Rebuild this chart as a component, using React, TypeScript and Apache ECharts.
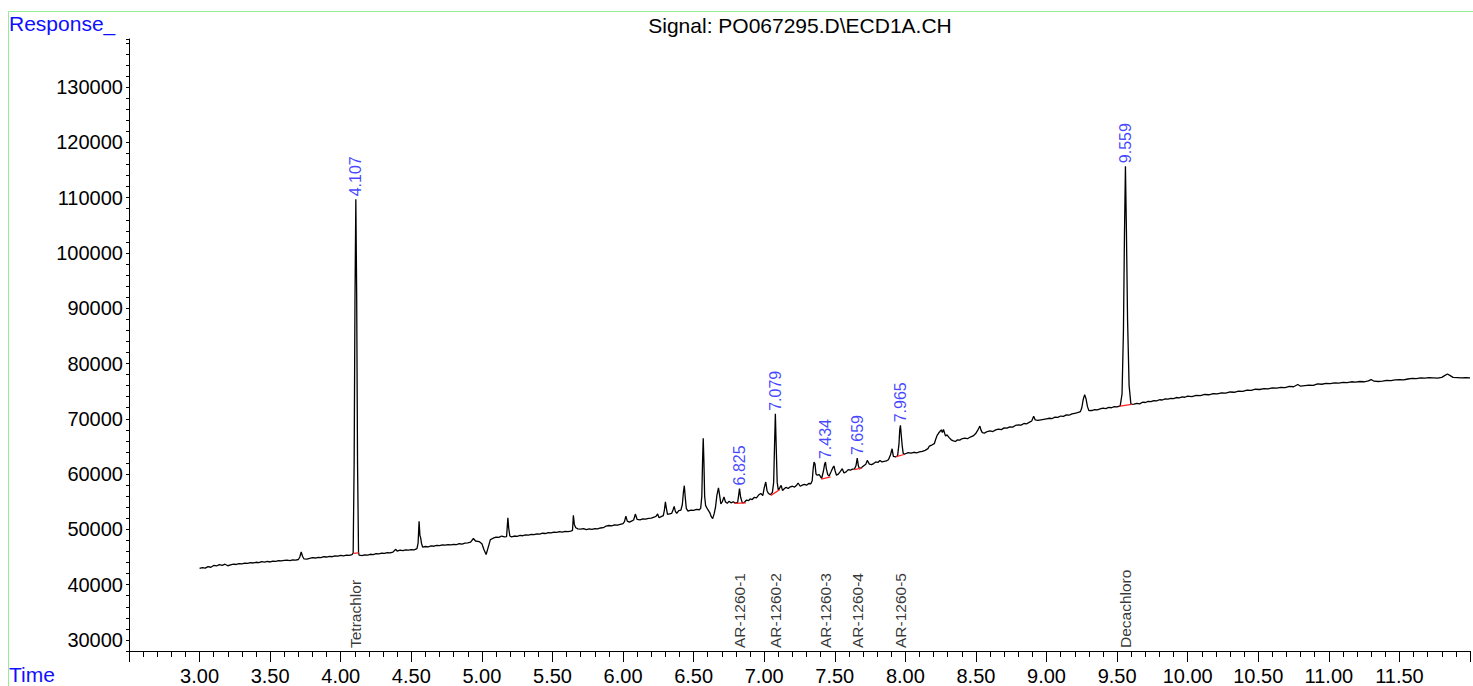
import React, { useEffect, useRef } from "react";
import * as echarts from "echarts";

const FONT = "'Liberation Sans', Arial, Helvetica, sans-serif";

const traceA: number[][] = [
  [3.00,42930],[3.02,43100],[3.04,42980],[3.06,43250],[3.08,43150],[3.10,43470],[3.12,43380],[3.14,43620],[3.16,43500],[3.18,43700],[3.20,43420],[3.22,43560],[3.24,43700],[3.26,43650],[3.28,43800],[3.30,43760],[3.32,43900],[3.34,43850],[3.36,44000],[3.38,43920],[3.40,44050],[3.42,43980],[3.44,44150],[3.46,44080],[3.48,44200],[3.50,44100],[3.52,44260],[3.54,44200],[3.56,44350],[3.58,44300],[3.60,44380],[3.62,44420],[3.64,44360],[3.66,44500],[3.68,44450],[3.70,44550],[3.71,45000],[3.72,45900],[3.73,45100],[3.74,44650],[3.76,44600],[3.78,44750],[3.80,44900],[3.82,44820],[3.84,44950],[3.86,44880],[3.88,45050],[3.90,45000],[3.92,45120],[3.94,45050],[3.96,45200],[3.98,45150],[4.00,45280],[4.02,45200],[4.04,45350],[4.06,45300],[4.08,45450],[4.088,45700],[4.095,62000],[4.101,92000],[4.107,109700],[4.113,92000],[4.119,62000],[4.126,45900],[4.13,45350],[4.15,45250],[4.17,45400],[4.19,45350],[4.21,45500],[4.23,45450],[4.25,45600],[4.27,45550],[4.29,45700],[4.31,45650],[4.33,45800],[4.35,45750],[4.37,45900],[4.39,46400],[4.40,46050],[4.42,46250],[4.44,46150],[4.46,46300],[4.48,46250],[4.50,46350],[4.52,46300],[4.54,46500],
];
const traceB: number[][] = [
  [4.548,47500],[4.555,51450],[4.561,48900],[4.566,48500],[4.572,47500],[4.58,46800],[4.60,46900],[4.62,46850],[4.64,47000],[4.66,46950],[4.68,47100],[4.70,47050],[4.72,47200],[4.74,47150],[4.76,47250],[4.78,47200],[4.80,47300],[4.82,47250],[4.84,47400],[4.86,47350],[4.88,47500],[4.90,47550],[4.92,47700],[4.94,48350],[4.955,47900],[4.98,47800],[5.00,47400],[5.015,46300],[5.03,45450],[5.045,46800],[5.06,48150],[5.08,48400],[5.10,48600],[5.12,48550],[5.14,48800],[5.16,48650],[5.175,48700],[5.184,52080],[5.19,50200],[5.198,48800],[5.21,48650],[5.23,48800],[5.25,48750],[5.27,48900],[5.29,48850],[5.31,49000],[5.33,48950],[5.35,49100],[5.37,49050],[5.39,49200],[5.41,49150],[5.43,49300],[5.45,49250],[5.47,49400],[5.49,49350],[5.51,49500],[5.53,49450],[5.55,49600],[5.57,49500],[5.59,49650],[5.61,49600],[5.63,49700],[5.642,49800],[5.648,52550],[5.655,50900],[5.665,50300],[5.68,50100],[5.70,50050],[5.72,50150],[5.74,49950],[5.76,50100],[5.78,50000],[5.80,50150],[5.82,50100],[5.84,50250],[5.86,50300],[5.88,50600],[5.90,50700],[5.92,50650],[5.94,50800],[5.96,50750],[5.98,50900],
];
const traceC: number[][] = [
  [6.00,51050],[6.01,51400],[6.02,52370],[6.03,51500],[6.045,51300],[6.06,51500],[6.075,51700],[6.087,52770],[6.10,51800],[6.12,51700],[6.14,51900],[6.16,51850],[6.18,52000],[6.20,52050],[6.22,52200],[6.235,52400],[6.245,52800],[6.255,52100],[6.27,52300],[6.285,52500],[6.293,53500],[6.30,54970],[6.307,53800],[6.315,52700],[6.33,52800],[6.345,52900],[6.355,53600],[6.362,54170],[6.37,53300],[6.38,52900],[6.395,53400],[6.41,53500],[6.42,54500],[6.428,56800],[6.434,57900],[6.44,56000],[6.448,53800],[6.46,53300],[6.48,53500],[6.50,53450],[6.52,53600],[6.54,53550],[6.55,53800],[6.558,56000],[6.563,62000],[6.568,66500],[6.573,62000],[6.578,56000],[6.585,54300],[6.60,53600],[6.615,53000],[6.625,52300],[6.635,51950],[6.645,52800],[6.655,54000],[6.665,56200],[6.676,57500],[6.685,56000],[6.693,54600],[6.703,55000],[6.715,55870],[6.725,55000],[6.738,54700],[6.75,55080],[6.765,54800],[6.78,55000],[6.795,54750],[6.812,54900],[6.819,56200],[6.825,57400],[6.833,55800],[6.845,54800],[6.86,54900],[6.875,55300],[6.89,55200],[6.90,55500],[6.915,55400],[6.93,55800],[6.945,55700],[6.96,56200],[6.976,56500],[6.99,56100],
];
const traceD: number[][] = [
  [7.00,57500],[7.011,58570],[7.02,57000],[7.03,56500],[7.045,56280],[7.058,56700],[7.067,58500],[7.073,65000],[7.079,70900],[7.085,65000],[7.092,58500],[7.10,57100],[7.11,57500],[7.12,57960],[7.13,57000],[7.14,57300],[7.155,57600],[7.17,57400],[7.185,57700],[7.20,57800],[7.215,57650],[7.23,58000],[7.24,58390],[7.255,57800],[7.27,58000],[7.285,58150],[7.30,58000],[7.315,58300],[7.33,58250],[7.34,58800],[7.347,61000],[7.353,62180],[7.36,61800],[7.367,60000],[7.375,59800],[7.39,59900],[7.407,59200],[7.42,60600],[7.428,61800],[7.434,62180],[7.44,61000],[7.45,59900],[7.46,59660],[7.475,60500],[7.487,61200],[7.494,61460],[7.502,60600],[7.512,59800],[7.525,60000],[7.54,60500],[7.553,60970],[7.565,60200],[7.58,60400],[7.595,60800],[7.61,60700],[7.625,60900],[7.64,60950],[7.65,61500],[7.659,62900],[7.667,61500],[7.675,60950],[7.69,61200],[7.705,61500],[7.72,61800],[7.73,62470],[7.745,61800],[7.76,61700],[7.775,61900],[7.79,62200],[7.805,62100],[7.82,62470],[7.835,62200],[7.85,62300],[7.865,62400],[7.88,62600],[7.895,63500],[7.906,64580],[7.915,63200],[7.93,63100],[7.945,63300],[7.955,65500],[7.960,68000],[7.965,68820],[7.971,67000],[7.978,65000],[7.985,63700],[7.995,63600],
];
const traceE: number[][] = [
  [8.00,63680],[8.02,63900],[8.04,63800],[8.06,63950],[8.08,63850],[8.10,64000],[8.12,64100],[8.14,64300],[8.16,64600],[8.17,65070],[8.19,65300],[8.205,65500],[8.215,66300],[8.225,67000],[8.237,67470],[8.245,67700],[8.255,68010],[8.262,67500],[8.27,68070],[8.278,67400],[8.285,66870],[8.295,67100],[8.31,66600],[8.325,66200],[8.34,66000],[8.355,65900],[8.37,66200],[8.385,66150],[8.40,66390],[8.42,66500],[8.44,66400],[8.46,66700],[8.48,66900],[8.497,67290],[8.51,67800],[8.52,68300],[8.528,68670],[8.535,68000],[8.545,67500],[8.56,67400],[8.58,67700],[8.60,67830],[8.62,67700],[8.64,68000],[8.66,68150],[8.68,68050],[8.70,68350],[8.72,68300],[8.74,68550],[8.76,68500],[8.78,68800],[8.80,68900],[8.82,68850],[8.84,69150],[8.86,69100],[8.88,69400],[8.895,69600],[8.909,70480],[8.92,69800],[8.94,69700],[8.96,69800],[8.98,69900],[9.00,70000],[9.02,70100],[9.04,70050],[9.06,70300],[9.08,70250],[9.10,70500],[9.12,70450],[9.14,70700],[9.16,70650],[9.18,70900],[9.20,71000],[9.22,71100],[9.24,71300],[9.25,72000],[9.26,73500],[9.27,74380],[9.28,73600],[9.29,72200],[9.30,71490],[9.32,71500],[9.34,71650],[9.36,71600],[9.38,71800],[9.40,71920],[9.42,71850],[9.44,72050],[9.46,72000],[9.48,72200],[9.50,72150],[9.522,72340],
];
const traceF: number[][] = [
  [9.535,74500],[9.545,86000],[9.552,103000],[9.559,115700],[9.566,104000],[9.574,88000],[9.585,76000],[9.598,72600],[9.62,72650],[9.64,72800],[9.66,72700],[9.68,73000],[9.70,72950],[9.72,73150],[9.74,73100],[9.76,73300],[9.78,73250],[9.80,73450],[9.82,73400],[9.84,73600],[9.86,73550],[9.88,73700],[9.90,73650],[9.92,73850],[9.94,73800],[9.96,73950],[9.98,73900],[10.00,74100],[10.03,74000],[10.06,74250],[10.09,74200],[10.12,74400],[10.15,74350],[10.18,74550],[10.21,74500],[10.24,74700],[10.27,74650],[10.30,74850],[10.33,74800],[10.36,75000],[10.39,74950],[10.42,75200],[10.45,75150],[10.48,75350],[10.51,75300],[10.54,75450],[10.57,75400],[10.60,75600],[10.63,75550],[10.66,75700],[10.69,75650],[10.72,75850],[10.75,75800],[10.78,76200],[10.80,75900],[10.83,76000],[10.86,76100],[10.89,76050],[10.92,76300],[10.95,76250],[10.98,76400],[11.01,76350],[11.04,76500],[11.07,76450],[11.10,76600],[11.13,76550],[11.16,76700],[11.19,76650],[11.22,76750],[11.25,76700],[11.28,76850],[11.30,77100],[11.32,76800],[11.35,76750],[11.38,76800],[11.41,76950],[11.44,76900],[11.47,77050],[11.50,77100],[11.53,77050],[11.56,77200],[11.59,77300],[11.62,77250],[11.65,77400],[11.68,77350],[11.71,77450],[11.74,77400],[11.77,77350],[11.80,77500],[11.82,77800],[11.84,78100],[11.86,77800],[11.88,77500],[11.91,77450],[11.94,77400],[11.97,77450],[12.00,77400],
];

// integrated peaks: retention time, apex response, compound name
const peakTimes = [4.107, 6.825, 7.079, 7.434, 7.659, 7.965, 9.559];
const peakApex = [109700, 57400, 70900, 62180, 62900, 68820, 115700];
const peakNames = ["Tetrachlor", "AR-1260-1", "AR-1260-2", "AR-1260-3", "AR-1260-4", "AR-1260-5", "Decachloro"];
// red integration baselines: [startT, startV, endT, endV]
const baselines: number[][] = [
  [4.090, 45650, 4.128, 45750],
  [6.790, 54700, 6.870, 54800],
  [7.047, 56150, 7.112, 57200],
  [7.404, 59100, 7.470, 59500],
  [7.638, 60800, 7.694, 61100],
  [7.935, 63150, 7.990, 63550],
  [9.518, 72300, 9.604, 72600],
];

const X_MIN = 2.5;
const X_MAX = 12.0;
const Y_MIN = 28000;
const Y_MAX = 138700;

export default function App() {
  const ref = useRef<HTMLDivElement>(null);
  useEffect(() => {
    if (!ref.current) return;
    const chart = echarts.init(ref.current, undefined, { renderer: "svg" });
    const trace = [...traceA, ...traceB, ...traceC, ...traceD, ...traceE, ...traceF];
    const redSeries = baselines.map((b) => ({
      type: "line",
      data: [[b[0], b[1]], [b[2], b[3]]],
      symbol: "none",
      silent: true,
      lineStyle: { color: "#ff2020", width: 1.2 },
      z: 4,
    }));
    chart.setOption({
      animation: false,
      textStyle: { fontFamily: FONT },
      grid: { left: 129, right: 1, top: 39, bottom: 33.2 },
      xAxis: {
        type: "value",
        min: X_MIN,
        max: X_MAX,
        interval: 0.5,
        axisLine: { show: true, lineStyle: { color: "#000", width: 1 } },
        axisTick: { show: true, length: 11, lineStyle: { color: "#000" } },
        minorTick: { show: true, splitNumber: 5, length: 6, lineStyle: { color: "#000" } },
        splitLine: { show: false },
        axisLabel: {
          color: "#000",
          fontSize: 20,
          fontFamily: FONT,
          margin: 15,
          formatter: (v: number) => (v < 2.9 || v > 11.9 ? "" : v.toFixed(2)),
        },
      },
      yAxis: {
        type: "value",
        min: Y_MIN,
        max: Y_MAX,
        interval: 2000,
        axisLine: { show: true, lineStyle: { color: "#000", width: 1 } },
        axisTick: { show: true, length: 3, lineStyle: { color: "#000" } },
        splitLine: { show: false },
        axisLabel: {
          color: "#000",
          fontSize: 20,
          fontFamily: FONT,
          margin: 6,
          formatter: (v: number) => (Math.round(v) % 10000 === 0 ? String(Math.round(v)) : ""),
        },
      },
      graphic: [
        {
          type: "rect",
          shape: { x: 8.5, y: 11.5, width: 1500, height: 700 },
          style: { fill: "none", stroke: "#94ee94", lineWidth: 1 },
          silent: true,
        },
        {
          type: "text",
          x: 9,
          y: 23,
          style: { text: "Response_", fill: "#1010ff", fontSize: 21, fontFamily: FONT, verticalAlign: "middle", align: "left" },
        },
        {
          type: "text",
          x: 9,
          y: 674,
          style: { text: "Time", fill: "#1010ff", fontSize: 21, fontFamily: FONT, verticalAlign: "middle", align: "left" },
        },
        {
          type: "text",
          x: 800,
          y: 25.5,
          style: { text: "Signal: PO067295.D\\ECD1A.CH", fill: "#000", fontSize: 21, fontFamily: FONT, verticalAlign: "middle", align: "center" },
        },
      ],
      series: [
        {
          type: "line",
          data: trace,
          symbol: "none",
          silent: true,
          lineStyle: { color: "#000", width: 1.3 },
          z: 3,
        },
        ...redSeries,
        {
          type: "scatter",
          data: peakTimes.map((t, i) => [t, peakApex[i], t.toFixed(3)]),
          symbolSize: 0,
          silent: true,
          itemStyle: { color: "transparent" },
          label: {
            show: true,
            position: "top",
            distance: 3,
            rotate: 90,
            align: "left",
            verticalAlign: "middle",
            color: "#1414ff",
            fontSize: 16,
            fontFamily: FONT,
            formatter: (p: any) => p.data[2],
          },
          z: 5,
        },
        {
          type: "scatter",
          data: peakTimes.map((t, i) => [t, Y_MIN, peakNames[i]]),
          symbolSize: 0,
          silent: true,
          itemStyle: { color: "transparent" },
          label: {
            show: true,
            position: "top",
            distance: 3,
            rotate: 90,
            align: "left",
            verticalAlign: "middle",
            color: "#000",
            fontSize: 15.5,
            fontFamily: FONT,
            formatter: (p: any) => p.data[2],
          },
          z: 5,
        },
      ],
    });
    return () => chart.dispose();
  }, []);
  return (
    <div
      ref={ref}
      style={{ position: "fixed", left: 0, top: 0, width: 1473, height: 686, background: "#fff" }}
    />
  );
}
